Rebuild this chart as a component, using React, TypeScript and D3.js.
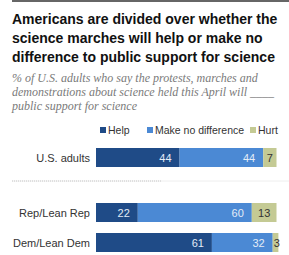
import React from "react";
import * as d3 from "d3";

const categories = ["U.S. adults", "Rep/Lean Rep", "Dem/Lean Dem"];
const help = [44, 22, 61];
const noDifference = [44, 60, 32];
const hurt = [7, 13, 3];
const seriesNames = ["Help", "Make no difference", "Hurt"];
const seriesKeys = ["help", "noDifference", "hurt"];
const titleLines = [
  "Americans are divided over whether the",
  "science marches will help or make no",
  "difference to public support for science",
];
const subtitleLines = [
  "% of U.S. adults who say the protests, marches and",
  "demonstrations about science held this April will ____",
  "public support for science",
];

const colors = ["#1f4b87", "#4b89d4", "#c4ca94"];
const textColors = ["#e3ecf7", "#e3ecf7", "#333333"];

export default function App() {
  const W = 289;
  const H = 255;
  const rows = categories.map((c, i) => ({
    cat: c,
    help: help[i],
    noDifference: noDifference[i],
    hurt: hurt[i],
  }));
  const stack = d3.stack<any>().keys(seriesKeys);
  const series = stack(rows);
  const x = d3.scaleLinear().domain([0, 100]).range([96, 286]);
  const y = d3.scaleOrdinal<string, number>().domain(categories).range([148, 203, 233]);
  const bh = 19;
  const sans = "'Liberation Sans', Arial, sans-serif";

  const legendX = [100, 147, 250];

  return (
    <svg
      width={W}
      height={H}
      style={{ position: "absolute", left: 0, top: 0, background: "#fff" }}
      fontFamily={sans}
    >
      <line x1={12} x2={289} y1={1} y2={1} stroke="#333" strokeWidth={1.5} />
      {titleLines.map((t, i) => (
        <text key={i} x={12} y={24 + i * 19} fontSize={14} fontWeight="bold" fill="#111">
          {t}
        </text>
      ))}
      {subtitleLines.map((t, i) => (
        <text
          key={i}
          x={12}
          y={82 + i * 14}
          fontSize={12}
          fontStyle="italic"
          fontFamily="'Liberation Serif', 'DejaVu Serif', serif"
          fill="#7a7a7a"
        >
          {t}
        </text>
      ))}
      {seriesNames.map((n, i) => (
        <g key={n}>
          <rect x={legendX[i]} y={127} width={6} height={6} fill={colors[i]} />
          <text x={legendX[i] + 8} y={134} fontSize={10.5} fill="#333">
            {n}
          </text>
        </g>
      ))}
      <line x1={12} x2={289} y1={181} y2={181} stroke="#eeeeee" strokeWidth={1} />
      <line
        x1={12}
        x2={161}
        y1={181}
        y2={181}
        stroke="#c8c8c8"
        strokeWidth={1}
        strokeDasharray="1,1"
      />
      {categories.map((c) => (
        <text
          key={c}
          x={90}
          y={y(c) + bh / 2 + 4}
          textAnchor="end"
          fontSize={11}
          fill="#333"
        >
          {c}
        </text>
      ))}
      {series.map((s, si) => (
        <g key={s.key}>
          {s.map((d, di) => {
            const x0 = x(d[0]);
            const x1 = x(d[1]);
            const v = d[1] - d[0];
            const yy = y(categories[di]);
            const isHurt = si === 2;
            const tx = isHurt ? (v < 5 ? x0 + 4 : (x0 + x1) / 2) : x1 - 8;
            return (
              <g key={di}>
                <rect x={x0} y={yy} width={x1 - x0} height={bh} fill={colors[si]} />
                <text
                  x={tx}
                  y={yy + bh / 2 + 4}
                  textAnchor={isHurt ? "middle" : "end"}
                  fontSize={11}
                  fill={textColors[si]}
                >
                  {v}
                </text>
              </g>
            );
          })}
        </g>
      ))}
    </svg>
  );
}
